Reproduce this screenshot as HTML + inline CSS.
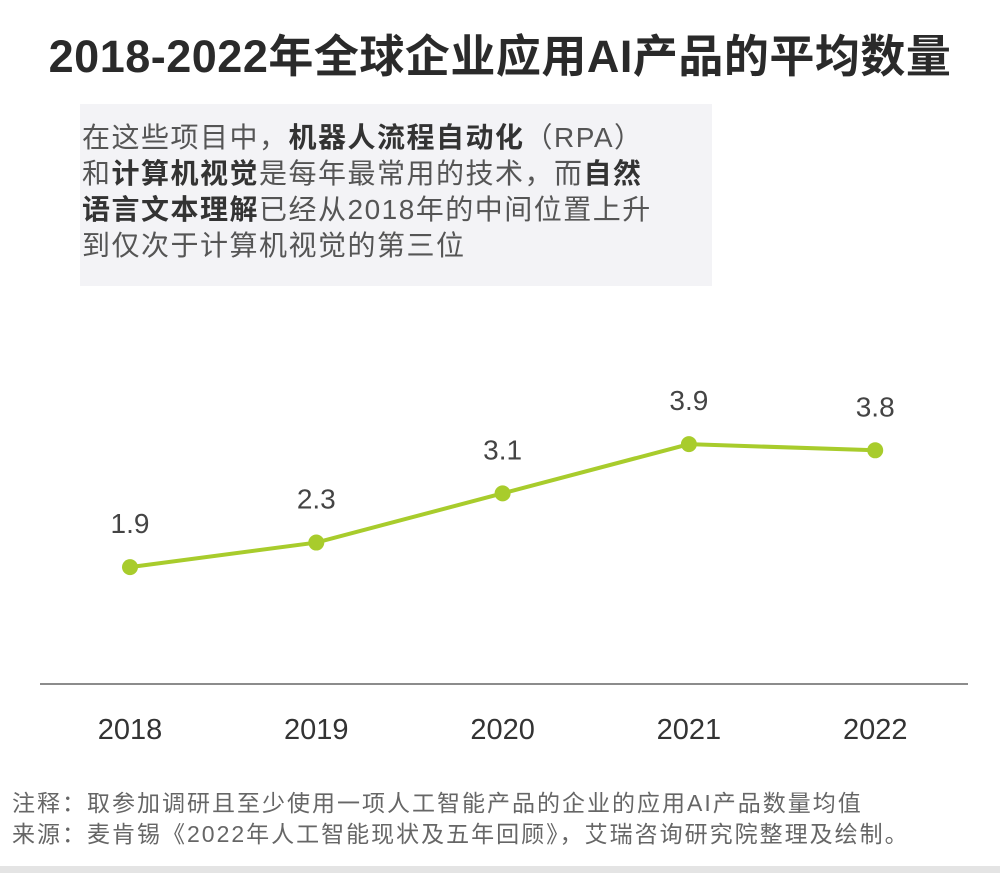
<!DOCTYPE html>
<html><head><meta charset="utf-8"><style>
body{margin:0;width:1000px;height:873px;background:#fff;overflow:hidden;position:relative;font-family:"Liberation Sans","Noto Sans CJK SC",sans-serif}
.t{position:absolute;white-space:nowrap}
b{color:#333;font-weight:bold}
</style></head><body>
<div class="t" style="left:0;width:1000px;text-align:center;top:20px;font-size:45px;font-weight:bold;color:#2a2a2a;letter-spacing:0.5px">2018-2022年全球企业应用AI产品的平均数量</div>
<div style="position:absolute;left:80px;top:104px;width:632px;height:182px;background:#f3f3f6"></div>
<div class="t" style="left:82px;top:120px;font-size:28px;line-height:36px;color:#555;letter-spacing:1.5px">
在这些项目中，<b>机器人流程自动化</b>（RPA）<br>和<b>计算机视觉</b>是每年最常用的技术，而<b>自然</b><br><b>语言文本理解</b>已经从2018年的中间位置上升<br>到仅次于计算机视觉的第三位</div>
<svg id="chart" width="1000" height="873" style="position:absolute;left:0;top:0"></svg>
<div class="t" style="left:12px;top:788px;font-size:23px;line-height:31px;color:#666;letter-spacing:2px">注释：取参加调研且至少使用一项人工智能产品的企业的应用AI产品数量均值<br>来源：麦肯锡《2022年人工智能现状及五年回顾》，艾瑞咨询研究院整理及绘制。</div>
<div style="position:absolute;left:0;top:866px;width:1000px;height:7px;background:#e4e4e4"></div>
<script>
const categories=["2018","2019","2020","2021","2022"];
const values=[1.9,2.3,3.1,3.9,3.8];
const labels=["1.9","2.3","3.1","3.9","3.8"];
const svg=document.getElementById('chart');const NS="http://www.w3.org/2000/svg";
const x=i=>130+i*186.3;const y=v=>684-v*61.5;
function mk(t,a){const e=document.createElementNS(NS,t);for(const k in a)e.setAttribute(k,a[k]);svg.appendChild(e);return e;}
const ax=mk('line',{x1:40,x2:968,y1:684,y2:684,stroke:'#666','stroke-width':1.5});


const ln=mk('polyline',{points:values.map((v,i)=>x(i)+','+y(v)).join(' '),fill:'none',stroke:'#a8cc2c','stroke-width':4});


values.forEach((v,i)=>{
const c=mk('circle',{cx:x(i),cy:y(v),r:8,fill:'#a8cc2c'});


const t=mk('text',{x:x(i),y:y(v)-34,'text-anchor':'middle','font-size':28,fill:'#444'});t.textContent=labels[i];


const k=mk('text',{x:x(i),y:739,'text-anchor':'middle','font-size':29,fill:'#333'});k.textContent=categories[i];


});
</script>
</body></html>
